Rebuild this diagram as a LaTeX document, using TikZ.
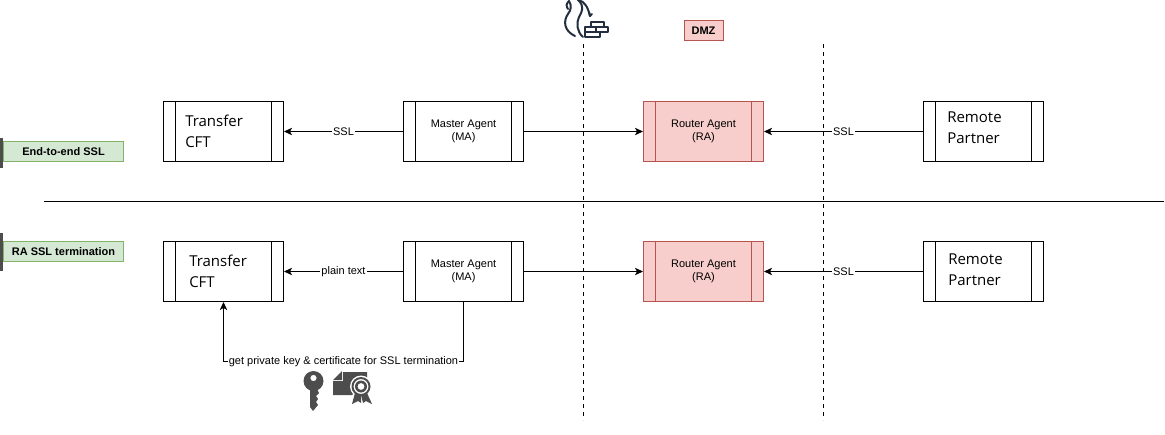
\documentclass[tikz,border=0pt]{standalone}
\usepackage{fontspec}
\setmainfont{Liberation Sans}
\newfontfamily\bigface{Open Sans}
\usetikzlibrary{arrows.meta}
\definecolor{redfill}{HTML}{F8CECC}
\definecolor{redline}{HTML}{B85450}
\definecolor{greenfill}{HTML}{D5E8D4}
\definecolor{greenline}{HTML}{82B366}
\definecolor{icondark}{HTML}{4D4D4D}
\definecolor{fwdark}{HTML}{232F3E}
\tikzset{
  x=0.75pt,y=-0.75pt,
  procbox/.style={draw=black,line width=0.75pt,fill=white,minimum width=90pt,minimum height=45pt,inner sep=0pt,font=\fontsize{8.25pt}{10pt}\selectfont,align=center,
    path picture={
      \draw[line width=0.75pt] ([xshift=9pt]path picture bounding box.north west)--([xshift=9pt]path picture bounding box.south west);
      \draw[line width=0.75pt] ([xshift=-9pt]path picture bounding box.north east)--([xshift=-9pt]path picture bounding box.south east);
    }},
  routerbox/.style={procbox,fill=redfill,draw=redline},
  bigtext/.style={anchor=west,inner sep=0pt,align=left,font=\bigface\fontsize{11.25pt}{15.75pt}\selectfont},
  tagbox/.style={draw=greenline,line width=0.75pt,fill=greenfill,minimum width=90pt,minimum height=15pt,inner sep=0pt,font=\bfseries\fontsize{8.25pt}{10pt}\selectfont},
  tagbar/.style={fill=icondark,draw=none,minimum width=2.25pt,inner sep=0pt},
  conn/.style={line width=0.75pt,-{Stealth[length=6pt,width=5.5pt,inset=1.5pt]}},
  lab/.style={fill=white,inner sep=1pt,font=\fontsize{8.25pt}{10pt}\selectfont},
  divider/.style={line width=0.75pt,dash pattern=on 3pt off 3pt},
  rule/.style={line width=0.75pt},
  dmz/.style={draw=redline,line width=0.75pt,fill=redfill,minimum width=29.25pt,minimum height=15pt,inner sep=0pt,font=\bfseries\fontsize{8.25pt}{10pt}\selectfont},
}
\begin{document}
\begin{tikzpicture}
\useasboundingbox (0,0) rectangle (1165,435);
% dividers
\coordinate (fwtop) at (583.5,44);
\coordinate (fwbot) at (583.5,420);
\coordinate (dmztop) at (823.5,44);
\coordinate (dmzbot) at (823.5,420);
\coordinate (ruleL) at (43.5,201.5);
\coordinate (ruleR) at (1163.5,201.5);
\draw[divider] (fwtop)--(fwbot);
\draw[divider] (dmztop)--(dmzbot);
\draw[rule] (ruleL)--(ruleR);
% tags
\node[tagbar,minimum height=22.5pt] (bar1) at (1.5,153) {};
\node[tagbox] (tag1) at (63.5,151.5) {End-to-end SSL};
\node[tagbar,minimum height=28.5pt] (bar2) at (1.5,252) {};
\node[tagbox] (tag2) at (63.5,251.5) {RA SSL termination};
% row 1
\node[procbox] (cft1) at (223.5,131.5) {};
\node[bigtext] (cft1t) at (185,131) {Transfer\\CFT};
\node[procbox] (ma1) at (463.5,131.5) {Master Agent\\(MA)};
\node[routerbox] (ra1) at (703.5,131.5) {Router Agent\\(RA)};
\node[procbox] (rp1) at (983.5,131.5) {};
\node[bigtext] (rp1t) at (947,128) {Remote\\Partner};
% row 2
\node[procbox] (cft2) at (223.5,271.5) {};
\node[bigtext] (cft2t) at (189,271) {Transfer\\CFT};
\node[procbox] (ma2) at (463.5,271.5) {Master Agent\\(MA)};
\node[routerbox] (ra2) at (703.5,271.5) {Router Agent\\(RA)};
\node[procbox] (rp2) at (983.5,271.5) {};
\node[bigtext] (rp2t) at (948,270) {Remote\\Partner};
% connectors
\draw[conn] (ma1)--node[lab]{SSL}(cft1);
\draw[conn] (ma1)--(ra1);
\draw[conn] (rp1)--node[lab,pos=.5]{SSL}(ra1);
\draw[conn] (ma2)--node[lab]{plain text}(cft2);
\draw[conn] (ma2)--(ra2);
\draw[conn] (rp2)--node[lab,pos=.5]{SSL}(ra2);
\draw[conn] (ma2.south)--(463.5,361.5)--node[lab,pos=.5]{get private key \& certificate for SSL termination}(223.5,361.5)--(cft2.south);
% DMZ
\node[dmz] (dmzlabel) at (703.5,31) {DMZ};
% firewall icon
\begin{scope}[line width=1.5pt,draw=fwdark,line cap=round,line join=round]
\draw (569,1) .. controls (572,6) and (571,10) .. (568,14) .. controls (563,21) and (564,31) .. (575,36);
\draw (569,1) .. controls (566,4) and (566,6) .. (568,9);
\draw (578,0) .. controls (585,6) and (582,12) .. (579,17) .. controls (576,23) and (577,32) .. (583,37);
\draw (578,0) .. controls (585,1) and (588,8) .. (590,16);
\draw (589,12) -- (590,16) -- (592,14);
\draw[line width=1.3pt,fill=white] (591,22) rectangle (604,27);
\draw[line width=1.3pt] (585,27) rectangle (608,32);
\draw[line width=1.3pt] (585,32) rectangle (600,37);
\draw[line width=1.3pt] (596,27)--(596,32);
\end{scope}
% key icon
\fill[icondark,even odd rule] (313.5,381) circle (10) (313.5,378) circle (3.2);
\fill[icondark] (310,385) -- (317,385) -- (317,389) -- (319,393) -- (316,396) -- (318,399) -- (316,402) -- (318,405) -- (313,411) -- (310,407) -- cycle;
% certificate icon
\fill[icondark] (333,381) -- (343,381) -- (343,372) -- (367,372) -- (367,380) -- (352,395) -- (333,395) -- cycle;
\fill[icondark] (333,380) -- (342,371) -- (342,380) -- cycle;
\fill[white] (361,386.5) circle (11);
\fill[icondark] (355,393) -- (352,404) -- (358,401) -- (361,403) -- (361,395) -- cycle;
\fill[icondark] (367,393) -- (372,404) -- (366,401) -- (363,403) -- (361,395) -- cycle;
\fill[icondark,even odd rule] (361,386.5) circle (9.5) (361,386.5) circle (7.5);
\fill[icondark,even odd rule] (361,386.5) circle (6) (361,386.5) circle (3.5);
\end{tikzpicture}
\end{document}
